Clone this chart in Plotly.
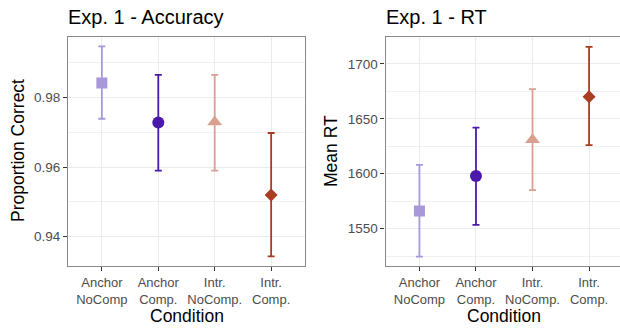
import plotly.graph_objects as go

conditions = ["Anchor<br>NoComp", "Anchor<br>Comp.", "Intr.<br>NoComp.", "Intr.<br>Comp."]
colors = ["#a897d9", "#4b1aaa", "#d9a092", "#a83d22"]
symbols = ["square", "circle", "triangle-up", "diamond"]
sizes = [11, 12, 13, 10]

acc_mean = [0.9842, 0.9728, 0.9730, 0.9520]
acc_lower = [0.9739, 0.9590, 0.9590, 0.9343]
acc_upper = [0.9947, 0.9865, 0.9865, 0.9698]

rt_mean = [1566, 1598, 1631, 1670]
rt_lower = [1524.5, 1553.5, 1585, 1626]
rt_upper = [1608, 1642, 1677, 1715.5]

FONT = "Liberation Sans, Arial, sans-serif"
W, H = 620, 329


def px(x):
    return x / W


def py(y):
    return 1 - y / H


fig = go.Figure()
for i, c in enumerate(conditions):
    fig.add_trace(go.Scatter(
        x=[i], y=[acc_mean[i]], mode="markers", xaxis="x", yaxis="y",
        marker=dict(symbol=symbols[i], size=sizes[i], color=colors[i], line=dict(width=0)),
        error_y=dict(type="data", symmetric=False,
                     array=[acc_upper[i] - acc_mean[i]],
                     arrayminus=[acc_mean[i] - acc_lower[i]],
                     color=colors[i], thickness=1.8, width=3.5),
        showlegend=False))
    fig.add_trace(go.Scatter(
        x=[i], y=[rt_mean[i]], mode="markers", xaxis="x2", yaxis="y2",
        marker=dict(symbol=symbols[i], size=sizes[i], color=colors[i], line=dict(width=0)),
        error_y=dict(type="data", symmetric=False,
                     array=[rt_upper[i] - rt_mean[i]],
                     arrayminus=[rt_mean[i] - rt_lower[i]],
                     color=colors[i], thickness=1.8, width=3.5),
        showlegend=False))

ytop = py(36.5)
ybot = py(266)

common_x = dict(
    tickmode="array", tickvals=list(range(4)), ticktext=conditions,
    showgrid=True, gridcolor="#ebebeb", gridwidth=1.1,
    zeroline=False, showline=True, linecolor="#8a8a8a", linewidth=1.2,
    ticks="outside", ticklen=4, tickcolor="#333333", tickwidth=1.1,
    tickfont=dict(family=FONT, size=13, color="#4d4d4d"),
)
common_y = dict(
    showgrid=True, gridcolor="#ebebeb", gridwidth=1.1,
    zeroline=False, showline=True, linecolor="#8a8a8a", linewidth=1.2,
    ticks="outside", ticklen=4, tickcolor="#333333", tickwidth=1.1,
    tickfont=dict(family=FONT, size=13.5, color="#4d4d4d"),
)

fig.update_layout(
    width=W, height=H,
    margin=dict(l=0, r=0, t=0, b=0),
    paper_bgcolor="white", plot_bgcolor="white",
    xaxis=dict(domain=[px(68), px(305)], range=[-0.6, 3.6], anchor="y", mirror=True, **common_x),
    yaxis=dict(domain=[ybot, ytop], range=[0.93156, 0.99755], anchor="x", mirror=True,
               tickvals=[0.94, 0.96, 0.98], ticktext=["0.94", "0.96", "0.98"],
               minor=dict(tickvals=[0.95, 0.97, 0.99], showgrid=True, gridcolor="#f0f0f0", gridwidth=0.6, ticks=""),
               **common_y),
    xaxis2=dict(domain=[px(385.5), 1.0], range=[-0.6, 3.547], anchor="y2", mirror=True, **common_x),
    yaxis2=dict(domain=[ybot, ytop], range=[1516, 1724.9], anchor="x2", mirror=False,
                tickvals=[1550, 1600, 1650, 1700],
                minor=dict(tickvals=[1525, 1575, 1625, 1675], showgrid=True, gridcolor="#f0f0f0", gridwidth=0.6, ticks=""),
                **common_y),
)

ann = []
ann.append(dict(text="Exp. 1 - Accuracy", x=px(66), y=py(17), xanchor="left", yanchor="middle",
                font=dict(family=FONT, size=20, color="black")))
ann.append(dict(text="Exp. 1 - RT", x=px(384), y=py(17), xanchor="left", yanchor="middle",
                font=dict(family=FONT, size=20, color="black")))
ann.append(dict(text="Condition", x=px(186.5), y=py(315.5), xanchor="center", yanchor="middle",
                font=dict(family=FONT, size=17.5, color="black")))
ann.append(dict(text="Condition", x=px(504), y=py(315.5), xanchor="center", yanchor="middle",
                font=dict(family=FONT, size=17.5, color="black")))
ann.append(dict(text="Proportion Correct", x=px(18), y=py(151), xanchor="center", yanchor="middle",
                textangle=-90, font=dict(family=FONT, size=17.5, color="black")))
ann.append(dict(text="Mean RT", x=px(331), y=py(151), xanchor="center", yanchor="middle",
                textangle=-90, font=dict(family=FONT, size=17.5, color="black")))
for a in ann:
    a.update(xref="paper", yref="paper", showarrow=False)
fig.update_layout(annotations=ann)

# remove the page's default 8px body margin so the figure fills the window
fig.write_html("out.html", config={"displayModeBar": False},
               post_script="document.body.style.margin='0px';")
